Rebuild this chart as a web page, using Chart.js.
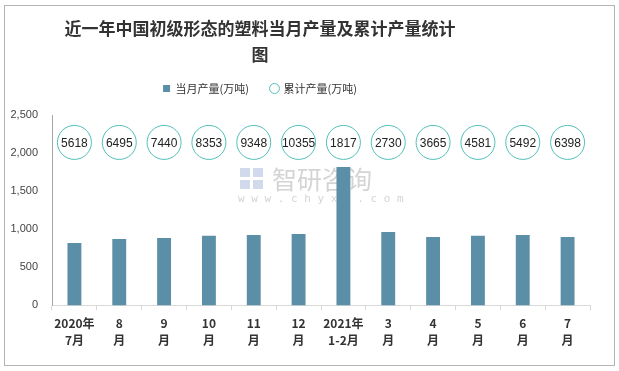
<!DOCTYPE html>
<html>
<head>
<meta charset="utf-8">
<script src="https://cdn.jsdelivr.net/npm/chart.js@4/dist/chart.umd.min.js"></script>
<style>
  html, body { margin: 0; padding: 0; background: #fff; }
  #wrap { width: 619px; height: 371px; }
</style>
</head>
<body>
<div id="wrap"><canvas id="chart" width="619" height="371"></canvas></div>
<script>
// data
const months = [['2020年', '7月'], ['8', '月'], ['9', '月'], ['10', '月'], ['11', '月'], ['12', '月'],
  ['2021年', '1-2月'], ['3', '月'], ['4', '月'], ['5', '月'], ['6', '月'], ['7', '月']];
const monthlyOutput = [820, 873, 886, 913, 926, 939, 1817, 965, 899, 913, 926, 899];
const cumulativeOutput = [5618, 6495, 7440, 8353, 9348, 10355, 1817, 2730, 3665, 4581, 5492, 6398];
const yTicks = [0, 500, 1000, 1500, 2000, 2500];
const bubbleLevel = 2140; // the circles sit on one row near the top

const barColor = '#5b8fa8';
const ringColor = '#52bfba';

// frame round the whole picture plus the faint watermark
const framePlugin = {
  id: 'frame',
  afterLayout(chart) {
    // title and legend sit left of centre in the original
    const shiftX = -37;
    [chart.titleBlock, chart.legend].forEach(function(box) {
      if (box) { box.left += shiftX; box.right += shiftX; }
    });
    if (chart.legend) { chart.legend.top -= 11; chart.legend.bottom -= 11; }
  },
  beforeDraw(chart) {
    const ctx = chart.ctx;
    ctx.save();
    ctx.fillStyle = '#fff';
    ctx.fillRect(0, 0, chart.width, chart.height);
    ctx.strokeStyle = '#b4b4b4';
    ctx.lineWidth = 1;
    ctx.strokeRect(4.5, 5.5, 610, 360);
    // watermark
    ctx.fillStyle = 'rgba(160,160,160,0.45)';
    ctx.font = '25px "Noto Sans CJK SC"';
    ctx.textAlign = 'left';
    ctx.textBaseline = 'middle';
    ctx.fillText('智研咨询', 272, 179);
    ctx.font = '11px "DejaVu Sans Mono"';
    ctx.fillText('w w w . c h y x x . c o m', 238, 199);
    ctx.fillStyle = 'rgba(120,150,200,0.35)';
    ctx.fillRect(240, 168, 10, 9);
    ctx.fillRect(253, 168, 10, 9);
    ctx.fillRect(240, 180, 10, 9);
    ctx.fillRect(253, 180, 10, 9);
    ctx.restore();
  }
};

// cumulative values written inside the circles
const ringLabels = {
  id: 'ringLabels',
  afterDatasetsDraw(chart) {
    const meta = chart.getDatasetMeta(1);
    const ctx = chart.ctx;
    ctx.save();
    ctx.fillStyle = '#222';
    ctx.font = '12px "Liberation Sans", Arial, sans-serif';
    ctx.textAlign = 'center';
    ctx.textBaseline = 'middle';
    meta.data.forEach(function(pt, i) {
      ctx.fillText(String(cumulativeOutput[i]), pt.x, pt.y + 1);
    });
    ctx.restore();
  }
};

new Chart(document.getElementById('chart'), {
  data: {
    labels: months,
    datasets: [
      {
        type: 'bar',
        label: '当月产量(万吨)',
        data: monthlyOutput,
        backgroundColor: barColor,
        barPercentage: 0.62,
        categoryPercentage: 0.5,
        pointStyle: 'rect',
        order: 2
      },
      {
        type: 'line',
        label: '累计产量(万吨)',
        data: monthlyOutput.map(function() { return bubbleLevel; }),
        showLine: false,
        pointRadius: 17,
        pointHoverRadius: 17,
        pointBorderWidth: 1,
        pointBorderColor: ringColor,
        pointBackgroundColor: '#fff',
        borderColor: ringColor,
        backgroundColor: '#fff',
        pointStyle: 'circle',
        order: 1
      }
    ]
  },
  options: {
    responsive: false,
    animation: false,
    layout: { padding: { left: 4, right: 29, top: 9, bottom: 17 } },
    plugins: {
      title: {
        display: true,
        text: ['近一年中国初级形态的塑料当月产量及累计产量统计', '图'],
        color: '#333',
        font: { family: '"Noto Sans CJK SC"', size: 17, weight: 'bold', lineHeight: 1.5 },
        padding: { top: 7, bottom: 5 }
      },
      legend: {
        display: true,
        position: 'top',
        labels: {
          usePointStyle: true,
          boxWidth: 7,
          boxHeight: 7,
          padding: 22,
          color: '#333',
          font: { family: '"Noto Sans CJK SC"', size: 11 },
          sort: function(a, b) { return a.datasetIndex - b.datasetIndex; }
        }
      },
      tooltip: { enabled: false }
    },
    scales: {
      x: {
        offset: true,
        grid: {
          display: true,
          offset: true,
          drawOnChartArea: false,
          drawTicks: true,
          tickLength: 5,
          color: '#d9d9d9'
        },
        border: { display: true, color: '#d9d9d9' },
        ticks: {
          color: '#333',
          font: { family: '"Noto Sans CJK SC"', size: 12, weight: 'bold', lineHeight: 1.4 },
          maxRotation: 0,
          autoSkip: false,
          padding: 5
        }
      },
      y: {
        min: 0,
        max: 2500,
        afterFit: function(scale) { scale.width = 48; },
        afterBuildTicks: function(scale) {
          scale.ticks = yTicks.map(function(v) { return { value: v }; });
        },
        grid: { display: false },
        border: { display: true, color: '#a6a6a6' },
        ticks: {
          color: '#444',
          padding: 6,
          font: { family: '"Liberation Sans", Arial, sans-serif', size: 11 },
          callback: function(v) { return v.toLocaleString('en-US'); }
        }
      }
    }
  },
  plugins: [framePlugin, ringLabels]
});
</script>
</body>
</html>
